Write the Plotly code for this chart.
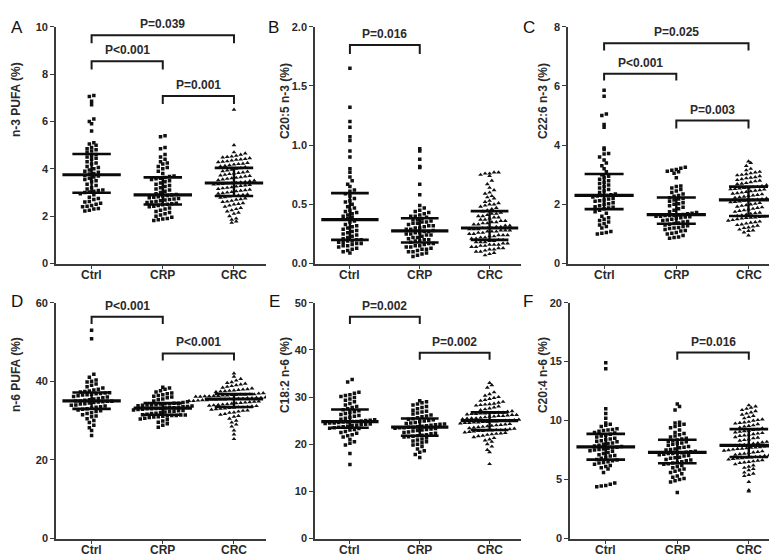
import numpy as np
import plotly.graph_objects as go

W, H = 777, 560
GROUPS = ["Ctrl", "CRP", "CRC"]

# ---------------- data ----------------
a_ctrl = [2.22, 2.25, 2.3, 2.32, 2.4, 2.42, 2.45, 2.5, 2.55, 2.6, 2.62, 2.7, 2.75, 2.8, 2.9, 2.95,
          3.0, 3.02, 3.05, 3.08, 3.1, 3.15, 3.2, 3.3, 3.35, 3.45, 3.5, 3.55, 3.6, 3.65, 3.7, 3.72,
          3.78, 3.8, 3.85, 3.9, 3.95, 4.0, 4.05, 4.1, 4.2, 4.25, 4.3, 4.4, 4.45, 4.5, 4.55, 4.6,
          4.7, 4.75, 4.8, 4.85, 4.9, 5.0, 5.05, 5.1, 5.6, 5.9, 6.0, 6.1, 6.7, 6.85, 7.05, 7.1]
a_crp = [1.82, 1.85, 1.88, 1.9, 1.95, 2.0, 2.05, 2.1, 2.15, 2.2, 2.25, 2.3, 2.35, 2.4, 2.42, 2.45, 2.48,
         2.5, 2.52, 2.55, 2.58, 2.6, 2.62, 2.65, 2.68, 2.7, 2.72, 2.75, 2.78, 2.8, 2.82, 2.85, 2.87, 2.89,
         2.91, 2.95, 3.0, 3.05, 3.1, 3.15, 3.2, 3.25, 3.3, 3.35, 3.4, 3.45, 3.5, 3.55, 3.58, 3.6, 3.63,
         3.67, 3.7, 3.8, 3.9, 4.0, 4.05, 4.1, 4.2, 4.25, 4.3, 4.4, 4.5, 4.6, 4.85, 4.9, 5.35, 5.4]
a_crc = [1.72, 1.78, 1.85, 1.9, 2.0, 2.1, 2.15, 2.2, 2.25, 2.3, 2.35, 2.4, 2.45, 2.5, 2.52, 2.55, 2.6,
         2.62, 2.65, 2.7, 2.72, 2.75, 2.78, 2.8, 2.83,
         2.86, 2.88, 2.9, 2.92, 2.95, 2.97, 3.0, 3.02, 3.05, 3.08, 3.1, 3.12, 3.15, 3.18, 3.2, 3.22, 3.25,
         3.28, 3.3, 3.32, 3.34, 3.35, 3.36, 3.38, 3.39,
         3.41, 3.43, 3.45, 3.48, 3.5, 3.52, 3.55, 3.58, 3.6, 3.62, 3.65, 3.68, 3.7, 3.72, 3.75, 3.78, 3.8,
         3.83, 3.85, 3.88, 3.9, 3.93, 3.96, 4.0, 4.03,
         4.07, 4.1, 4.12, 4.15, 4.18, 4.2, 4.22, 4.25, 4.28, 4.3, 4.32, 4.35, 4.38, 4.4, 4.42, 4.45, 4.48,
         4.5, 4.52, 4.55, 4.6, 4.65, 4.7, 5.0, 6.5]

b_ctrl = [0.09, 0.1, 0.11, 0.12, 0.13, 0.14, 0.15, 0.15, 0.16, 0.17, 0.17, 0.18, 0.18, 0.19, 0.19, 0.2,
          0.2, 0.21, 0.22, 0.23, 0.24, 0.25, 0.26, 0.27, 0.28, 0.29, 0.3, 0.31, 0.32, 0.33, 0.35, 0.36,
          0.38, 0.39, 0.4, 0.41, 0.42, 0.43, 0.44, 0.45, 0.47, 0.48, 0.5, 0.52, 0.53, 0.55, 0.57, 0.59,
          0.61, 0.62, 0.65, 0.67, 0.7, 0.73, 0.77, 0.8, 0.9, 0.95, 1.04, 1.07, 1.15, 1.2, 1.32, 1.65]
b_crp = [0.06, 0.07, 0.08, 0.09, 0.1, 0.1, 0.11, 0.12, 0.12, 0.13, 0.14, 0.14, 0.15, 0.15, 0.16, 0.17, 0.17,
         0.18, 0.19, 0.19, 0.2, 0.2, 0.21, 0.22, 0.22, 0.23, 0.24, 0.24, 0.25, 0.25, 0.26, 0.26, 0.27, 0.27,
         0.28, 0.29, 0.29, 0.3, 0.3, 0.31, 0.32, 0.32, 0.33, 0.34, 0.34, 0.35, 0.35, 0.36, 0.37, 0.37, 0.38,
         0.39, 0.4, 0.4, 0.41, 0.42, 0.43, 0.44, 0.45, 0.47, 0.49, 0.58, 0.67, 0.81, 0.82, 0.88, 0.95, 0.97]
b_crc = [0.07, 0.08, 0.09, 0.1, 0.1, 0.11, 0.12, 0.12, 0.13, 0.13, 0.14, 0.14, 0.15, 0.15, 0.16, 0.16, 0.16,
         0.17, 0.17, 0.18, 0.18, 0.18, 0.19, 0.19, 0.2,
         0.2, 0.21, 0.21, 0.22, 0.22, 0.23, 0.23, 0.24, 0.24, 0.24, 0.25, 0.25, 0.26, 0.26, 0.27, 0.27, 0.27,
         0.28, 0.28, 0.28, 0.29, 0.29, 0.29, 0.3, 0.3,
         0.3, 0.31, 0.31, 0.32, 0.32, 0.33, 0.33, 0.34, 0.34, 0.35, 0.35, 0.36, 0.36, 0.37, 0.37, 0.38, 0.39,
         0.39, 0.4, 0.4, 0.41, 0.42, 0.42, 0.43, 0.44,
         0.45, 0.46, 0.47, 0.48, 0.49, 0.5, 0.5, 0.51, 0.52, 0.53, 0.55, 0.56, 0.57, 0.59, 0.6, 0.62, 0.64,
         0.67, 0.7, 0.74, 0.75, 0.76, 0.76, 0.77, 0.77]

c_ctrl = [1.0, 1.02, 1.05, 1.08, 1.2, 1.25, 1.3, 1.35, 1.4, 1.45, 1.5, 1.55, 1.6, 1.7, 1.75, 1.8,
          1.85, 1.88, 1.9, 1.92, 1.95, 2.0, 2.02, 2.05, 2.1, 2.12, 2.15, 2.18, 2.2, 2.25, 2.28, 2.3,
          2.3, 2.32, 2.35, 2.4, 2.45, 2.5, 2.55, 2.6, 2.65, 2.7, 2.75, 2.8, 2.85, 2.9, 2.95, 3.0,
          3.1, 3.2, 3.3, 3.4, 3.5, 3.6, 3.7, 3.72, 3.85, 3.9, 4.6, 4.7, 5.0, 5.05, 5.65, 5.85]
c_crp = [0.85, 0.88, 0.9, 0.95, 1.0, 1.02, 1.05, 1.1, 1.12, 1.15, 1.18, 1.2, 1.22, 1.25, 1.28, 1.3, 1.33,
         1.35, 1.37, 1.4, 1.42, 1.45, 1.47, 1.5, 1.52, 1.55, 1.57, 1.58, 1.6, 1.6, 1.62, 1.62, 1.63, 1.64,
         1.66, 1.68, 1.7, 1.72, 1.75, 1.8, 1.85, 1.9, 1.95, 2.0, 2.02, 2.05, 2.1, 2.15, 2.18, 2.2, 2.22,
         2.27, 2.3, 2.35, 2.4, 2.45, 2.5, 2.55, 2.6, 2.62, 2.9, 3.05, 3.1, 3.12, 3.15, 3.18, 3.22, 3.25]
c_crc = [0.95, 1.05, 1.1, 1.12, 1.15, 1.2, 1.22, 1.25, 1.28, 1.3, 1.32, 1.35, 1.38, 1.4, 1.42, 1.45, 1.47,
         1.5, 1.52, 1.54, 1.55, 1.56, 1.57, 1.58, 1.59,
         1.61, 1.63, 1.65, 1.68, 1.7, 1.72, 1.75, 1.78, 1.8, 1.83, 1.85, 1.88, 1.9, 1.92, 1.95, 1.97, 2.0,
         2.02, 2.05, 2.07, 2.08, 2.1, 2.12, 2.13, 2.14,
         2.16, 2.18, 2.2, 2.22, 2.24, 2.26, 2.28, 2.3, 2.32, 2.34, 2.36, 2.38, 2.4, 2.42, 2.44, 2.46, 2.48,
         2.5, 2.51, 2.52, 2.54, 2.55, 2.56, 2.58, 2.59,
         2.62, 2.65, 2.68, 2.7, 2.72, 2.75, 2.78, 2.8, 2.82, 2.85, 2.88, 2.9, 2.92, 2.95, 2.98, 3.0, 3.02,
         3.05, 3.08, 3.1, 3.15, 3.2, 3.3, 3.4, 3.45]

d_ctrl = [26.2, 27.5, 28.2, 28.8, 29.5, 30.0, 30.5, 31.0, 31.2, 31.5, 31.8, 32.0, 32.3, 32.5, 32.7, 32.9,
          33.0, 33.2, 33.4, 33.5, 33.7, 33.9, 34.0, 34.2, 34.3, 34.5, 34.6, 34.7, 34.8, 34.9, 34.9, 35.0,
          35.0, 35.2, 35.3, 35.5, 35.6, 35.8, 36.0, 36.1, 36.3, 36.5, 36.6, 36.7, 36.8, 36.9, 37.0, 37.1,
          37.3, 37.4, 37.5, 37.8, 38.0, 38.3, 38.6, 39.0, 39.3, 39.8, 40.0, 40.3, 41.0, 41.8, 50.8, 53.0]
d_crp = [28.3, 28.8, 29.2, 29.6, 29.9, 30.2, 30.4, 30.6, 30.8, 30.9, 31.0, 31.1, 31.2, 31.3, 31.3, 31.4, 31.4,
         31.5, 31.6, 31.8, 31.9, 32.0, 32.2, 32.3, 32.4, 32.5, 32.6, 32.7, 32.8, 32.9, 33.0, 33.0, 33.1, 33.1,
         33.2, 33.3, 33.3, 33.4, 33.5, 33.6, 33.7, 33.8, 33.9, 34.0, 34.0, 34.1, 34.2, 34.3, 34.3, 34.4, 34.4,
         34.6, 34.8, 35.0, 35.3, 35.5, 35.8, 36.0, 36.2, 36.4, 36.6, 36.8, 37.0, 37.3, 37.6, 38.0, 38.3, 38.5]
d_crc = [25.3, 26.5, 27.5, 28.5, 29.0, 29.5, 30.0, 30.5, 31.0, 31.2, 31.5, 31.7, 32.0, 32.1, 32.3, 32.5, 32.6,
         32.8, 32.9, 33.0, 33.1, 33.2, 33.3, 33.4, 33.4,
         33.5, 33.6, 33.7, 33.8, 33.9, 34.0, 34.1, 34.2, 34.3, 34.4, 34.5, 34.6, 34.7, 34.8, 34.9, 35.0, 35.0,
         35.1, 35.2, 35.2, 35.3, 35.3, 35.4, 35.4, 35.5,
         35.5, 35.6, 35.6, 35.7, 35.7, 35.8, 35.8, 35.9, 35.9, 36.0, 36.0, 36.1, 36.1, 36.2, 36.2, 36.3, 36.3,
         36.4, 36.4, 36.5, 36.5, 36.6, 36.6, 36.7, 36.7,
         36.9, 37.0, 37.1, 37.2, 37.3, 37.4, 37.5, 37.6, 37.7, 37.8, 37.9, 38.0, 38.2, 38.4, 38.6, 38.8, 39.0,
         39.2, 39.4, 39.6, 39.8, 40.2, 40.6, 41.2, 42.0]

e_ctrl = [15.7, 18.0, 19.8, 20.2, 20.5, 21.0, 21.5, 21.8, 22.0, 22.3, 22.5, 22.7, 23.0, 23.1, 23.3, 23.4,
          23.5, 23.6, 23.7, 23.8, 23.9, 24.0, 24.1, 24.2, 24.3, 24.4, 24.5, 24.5, 24.6, 24.7, 24.7, 24.8,
          24.8, 24.9, 25.0, 25.1, 25.2, 25.3, 25.5, 25.7, 25.9, 26.1, 26.3, 26.5, 26.7, 26.9, 27.1, 27.3,
          27.5, 27.8, 28.0, 28.3, 28.6, 29.0, 29.3, 29.6, 29.9, 30.1, 30.3, 30.5, 30.8, 31.0, 33.2, 33.7]
e_crp = [17.2, 17.8, 18.3, 18.6, 19.0, 19.5, 19.8, 20.0, 20.3, 20.5, 20.7, 20.9, 21.1, 21.3, 21.5, 21.6, 21.7,
         21.8, 21.9, 22.0, 22.2, 22.3, 22.5, 22.6, 22.8, 22.9, 23.0, 23.1, 23.2, 23.3, 23.4, 23.5, 23.5, 23.6,
         23.6, 23.7, 23.8, 23.9, 24.0, 24.1, 24.2, 24.3, 24.4, 24.5, 24.6, 24.8, 24.9, 25.0, 25.2, 25.3, 25.4,
         25.6, 25.8, 26.0, 26.2, 26.4, 26.6, 26.8, 27.0, 27.2, 27.5, 27.8, 28.0, 28.3, 28.5, 28.8, 29.0, 29.2]
e_crc = [15.8, 18.3, 18.8, 19.5, 20.0, 20.5, 20.8, 21.0, 21.3, 21.5, 21.7, 21.8, 22.0, 22.1, 22.2, 22.3, 22.4,
         22.5, 22.6, 22.7, 22.8, 22.8, 22.9, 22.9, 23.0,
         23.0, 23.1, 23.2, 23.3, 23.4, 23.5, 23.6, 23.7, 23.8, 23.9, 24.0, 24.1, 24.2, 24.3, 24.4, 24.5, 24.5,
         24.6, 24.6, 24.7, 24.7, 24.8, 24.8, 24.9, 25.0,
         25.0, 25.1, 25.2, 25.3, 25.4, 25.5, 25.5, 25.6, 25.7, 25.8, 25.9, 26.0, 26.0, 26.1, 26.2, 26.2, 26.3,
         26.4, 26.4, 26.5, 26.5, 26.6, 26.6, 26.7, 26.7,
         26.9, 27.0, 27.2, 27.4, 27.6, 27.8, 28.0, 28.2, 28.3, 28.4, 28.5, 28.6, 28.8, 29.0, 29.2, 29.4, 29.6,
         29.8, 30.0, 30.3, 30.6, 31.0, 32.0, 32.5, 33.0]

f_ctrl = [4.4, 4.45, 4.5, 4.6, 4.7, 5.6, 5.9, 6.0, 6.1, 6.2, 6.3, 6.4, 6.45, 6.5, 6.6, 6.65,
          6.7, 6.8, 6.9, 7.0, 7.05, 7.1, 7.2, 7.3, 7.4, 7.45, 7.5, 7.55, 7.6, 7.65, 7.7, 7.75,
          7.8, 7.85, 7.9, 8.0, 8.05, 8.1, 8.2, 8.25, 8.3, 8.4, 8.45, 8.5, 8.6, 8.7, 8.75, 8.85,
          8.95, 9.0, 9.1, 9.15, 9.2, 9.25, 9.3, 9.5, 9.6, 9.7, 9.8, 10.2, 10.6, 11.0, 14.4, 14.9]
f_crp = [3.9, 4.8, 4.9, 5.0, 5.1, 5.2, 5.3, 5.5, 5.6, 5.7, 5.8, 5.9, 6.0, 6.1, 6.2, 6.3, 6.35,
         6.4, 6.45, 6.5, 6.6, 6.65, 6.7, 6.8, 6.85, 6.9, 7.0, 7.05, 7.1, 7.15, 7.2, 7.22, 7.25, 7.28,
         7.32, 7.35, 7.4, 7.5, 7.55, 7.6, 7.7, 7.75, 7.8, 7.9, 8.0, 8.05, 8.1, 8.2, 8.25, 8.3, 8.35,
         8.45, 8.5, 8.6, 8.7, 8.8, 8.9, 9.0, 9.2, 9.4, 9.5, 9.6, 9.7, 9.8, 9.85, 10.9, 11.2, 11.4]
f_crc = [4.0, 4.1, 4.8, 5.3, 5.4, 5.5, 5.6, 5.8, 5.9, 6.0, 6.1, 6.2, 6.3, 6.4, 6.45, 6.5, 6.55,
         6.6, 6.65, 6.7, 6.75, 6.8, 6.82, 6.85, 6.88,
         6.92, 6.95, 7.0, 7.05, 7.1, 7.15, 7.2, 7.25, 7.3, 7.35, 7.4, 7.45, 7.5, 7.55, 7.6, 7.62, 7.65,
         7.7, 7.72, 7.75, 7.78, 7.8, 7.82, 7.85, 7.88,
         7.92, 7.95, 8.0, 8.05, 8.1, 8.15, 8.2, 8.3, 8.35, 8.4, 8.5, 8.55, 8.6, 8.7, 8.75, 8.8, 8.85,
         8.9, 8.95, 9.0, 9.05, 9.1, 9.15, 9.2, 9.25,
         9.35, 9.4, 9.5, 9.55, 9.6, 9.7, 9.75, 9.8, 9.85, 9.9, 10.0, 10.05, 10.1, 10.2, 10.3, 10.4, 10.5,
         10.6, 10.7, 10.8, 10.9, 11.0, 11.1, 11.2, 11.3]

panel_letters = ["A", "B", "C", "D", "E", "F"]
y_titles = ["n-3 PUFA (%)", "C20:5 n-3 (%)", "C22:6 n-3 (%)",
            "n-6 PUFA (%)", "C18:2 n-6 (%)", "C20:4 n-6 (%)"]
y_max = [10, 2.0, 8, 60, 50, 20]
y_dtick = [2, 0.5, 2, 20, 10, 5]
y_fmt = ["d", ".1f", "d", "d", "d", "d"]
panel_data = [[a_ctrl, a_crp, a_crc], [b_ctrl, b_crp, b_crc], [c_ctrl, c_crp, c_crc],
              [d_ctrl, d_crp, d_crc], [e_ctrl, e_crp, e_crc], [f_ctrl, f_crp, f_crc]]
# significance brackets: (group from, group to, bar level, leg level, label)
brackets = [
    [(0, 2, 9.64, 9.30, "P=0.039"), (0, 1, 8.54, 8.19, "P<0.001"), (1, 2, 7.07, 6.74, "P=0.001")],
    [(0, 1, 1.845, 1.77, "P=0.016")],
    [(0, 2, 7.44, 7.20, "P=0.025"), (0, 1, 6.41, 6.18, "P<0.001"), (1, 2, 4.83, 4.56, "P=0.003")],
    [(0, 1, 56.4, 54.6, "P<0.001"), (1, 2, 47.1, 45.3, "P<0.001")],
    [(0, 1, 47.0, 45.5, "P=0.002"), (1, 2, 39.4, 37.9, "P=0.002")],
    [(1, 2, 15.77, 15.16, "P=0.016")],
]

# ---------------- layout geometry (pixels) ----------------
boxes = [(48, 258, 13, 255), (307, 513, 13, 255), (560, 773, 13, 255),
         (48, 258, 295, 536), (307, 513, 295, 536), (562, 773, 295, 536)]
letter_pos = [(9, 14), (265, 14), (521, 14), (9, 294), (266, 294), (520, 294)]
title_pos = [(8, 88), (277, 89), (535, 89), (8, 369), (277, 369), (535, 369)]
xlabel_y = [267, 267, 267, 548, 548, 548]
XR = [-0.5, 2.45]
symbols = ["square", "square", "triangle-up"]
TXT = "#2a2a2a"
FONT = "Liberation Sans, Arial, sans-serif"


def swarm_x(vals, ymax, hpx, center, pxu, row_px=4.6, col_px=4.5):
    vals = np.asarray(vals, dtype=float)
    rows = np.round(vals / ymax * hpx / row_px).astype(int)
    xs = np.empty(len(vals))
    for r in np.unique(rows):
        idx = np.where(rows == r)[0]
        idx = idx[np.argsort(vals[idx], kind="stable")]
        k = len(idx)
        offs = (np.arange(k) - (k - 1) / 2) * col_px
        xs[idx] = center + offs / pxu
    return xs


fig = go.Figure()
annotations = []
shapes = []
layout_axes = {}

for i in range(6):
    n = i + 1
    xa = "x" if n == 1 else f"x{n}"
    ya = "y" if n == 1 else f"y{n}"
    x0, x1, y0, y1 = boxes[i]
    hpx = y1 - y0
    pxu = (x1 - x0) / (XR[1] - XR[0])
    ymax = y_max[i]

    for g, vals in enumerate(panel_data[i]):
        xs = swarm_x(vals, ymax, hpx, g, pxu)
        fig.add_trace(go.Scatter(
            x=xs, y=vals, mode="markers", xaxis=xa, yaxis=ya, showlegend=False,
            marker=dict(symbol=symbols[g], size=3.5 if g < 2 else 4.2, color="#111111",
                        line=dict(width=0)),
            hoverinfo="y"))
    for g, vals in enumerate(panel_data[i]):
        q1, med, q3 = np.percentile(vals, [25, 50, 75])
        mw, cw = 0.41, 0.27
        fig.add_trace(go.Scatter(x=[g - mw, g + mw], y=[med, med], mode="lines", xaxis=xa, yaxis=ya,
                                 line=dict(color="#0a0a0a", width=3.2), showlegend=False, hoverinfo="skip"))
        for q in (q1, q3):
            fig.add_trace(go.Scatter(x=[g - cw, g + cw], y=[q, q], mode="lines", xaxis=xa, yaxis=ya,
                                     line=dict(color="#0a0a0a", width=2.6), showlegend=False,
                                     hoverinfo="skip"))
        fig.add_trace(go.Scatter(x=[g, g], y=[q1, q3], mode="lines", xaxis=xa, yaxis=ya,
                                 line=dict(color="#0a0a0a", width=2.4), showlegend=False, hoverinfo="skip"))

    for (ga, gb, bar, leg, lab) in brackets[i]:
        shapes.append(dict(type="path", xref=xa, yref=ya,
                           path=f"M {ga},{leg} L {ga},{bar} L {gb},{bar} L {gb},{leg}",
                           line=dict(color="#1a1a1a", width=2)))
        annotations.append(dict(x=(ga + gb) / 2, y=bar, xref=xa, yref=ya, text=lab, showarrow=False,
                                yanchor="bottom", yshift=2,
                                font=dict(family=FONT, size=12, color=TXT, weight="bold")))

    # category labels under the x axis
    for g, name in enumerate(GROUPS):
        annotations.append(dict(x=g, y=1 - xlabel_y[i] / H, xref=xa, yref="paper", text=name,
                                showarrow=False, xanchor="center", yanchor="middle",
                                font=dict(family=FONT, size=12, color=TXT, weight="bold")))

    layout_axes["xaxis" if n == 1 else f"xaxis{n}"] = dict(
        domain=[x0 / W, x1 / W], anchor=ya, range=XR, tickvals=[0, 1, 2], showticklabels=False,
        showline=True, linecolor="#3a3a3a", linewidth=1.6, ticks="outside", ticklen=4,
        tickwidth=1.4, tickcolor="#3a3a3a", showgrid=False, zeroline=False)
    layout_axes["yaxis" if n == 1 else f"yaxis{n}"] = dict(
        domain=[1 - y1 / H, 1 - y0 / H], anchor=xa, range=[0, ymax], dtick=y_dtick[i], tick0=0,
        tickformat=y_fmt[i], showline=True, linecolor="#3a3a3a", linewidth=1.6, ticks="outside",
        ticklen=4, tickwidth=1.4, tickcolor="#3a3a3a", showgrid=False, zeroline=False,
        tickfont=dict(family=FONT, size=11, color=TXT, weight="bold"))

    lx, ly = letter_pos[i]
    annotations.append(dict(x=lx / W, y=1 - ly / H, xref="paper", yref="paper", text=panel_letters[i],
                            showarrow=False, xanchor="center", yanchor="middle",
                            font=dict(family=FONT, size=17, color="#111111")))
    tx, ty = title_pos[i]
    annotations.append(dict(x=tx / W, y=1 - ty / H, xref="paper", yref="paper", text=y_titles[i],
                            showarrow=False, textangle=-90, xanchor="center", yanchor="middle",
                            font=dict(family=FONT, size=12, color=TXT, weight="bold")))

fig.update_layout(width=W, height=H, margin=dict(l=0, r=0, t=0, b=0),
                  paper_bgcolor="white", plot_bgcolor="white",
                  annotations=annotations, shapes=shapes, **layout_axes)

fig.write_html("out.html")
